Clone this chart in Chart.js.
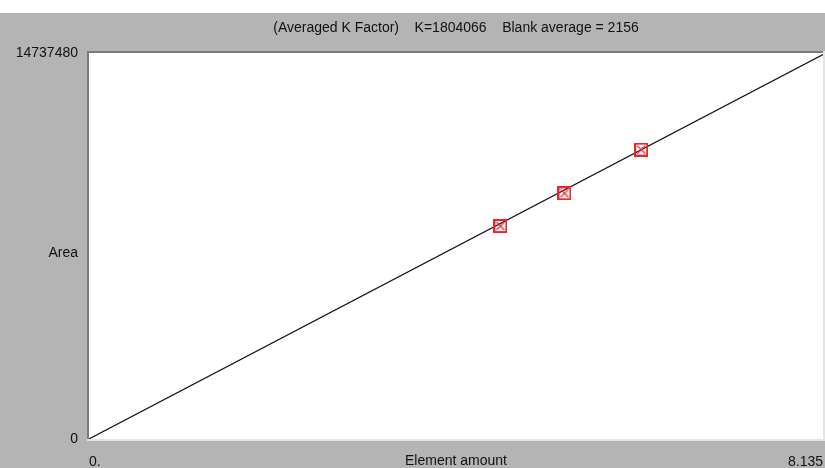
<!DOCTYPE html>
<html>
<head>
<meta charset="utf-8">
<script src="https://cdn.jsdelivr.net/npm/chart.js@4/dist/chart.umd.min.js"></script>
<style>
  html, body { margin: 0; padding: 0; background: #fff; }
  #wrap { width: 825px; height: 468px; }
</style>
</head>
<body>
<div id="wrap"><canvas id="calib" width="825" height="468"></canvas></div>
<script>
// Calibration standards (element amount vs. area) and fitted line.
const standardAmounts = [4.56, 5.27, 6.12];
const standardAreas = [8130000, 9380000, 11050000];
const fitAmounts = [0, 8.135];
const fitAreas = [2156, 14678233];
const xTicks = [0, 8.135];
const xTickLabels = ['0.', '8.135'];
const yTicks = [0, 14737480];
const yTickLabels = ['0', '14737480'];
const titleText = '(Averaged K Factor)    K=1804066    Blank average = 2156';
const xTitle = 'Element amount';
const yTitle = 'Area';

const FONT = '"Liberation Sans", Arial, sans-serif';
const FSIZE = 14;

// red square-with-cross marker
const marker = document.createElement('canvas');
marker.width = 14; marker.height = 14;
(() => {
  const c = marker.getContext('2d');
  c.strokeStyle = '#e8262b';
  c.lineWidth = 2;
  c.strokeRect(1, 1, 12, 12);
  c.lineWidth = 1.2;
  c.beginPath();
  c.moveTo(3, 3); c.lineTo(11, 11);
  c.moveTo(11, 3); c.lineTo(3, 11);
  c.stroke();
})();

// window-style frame: gray panel, sunken white plot area, plain-text titles
const frame = {
  id: 'frame',
  beforeDraw(chart) {
    const { ctx, chartArea: a, width, height } = chart;
    ctx.save();
    ctx.fillStyle = '#ffffff';
    ctx.fillRect(0, 0, width, height);
    ctx.fillStyle = '#b4b4b4';
    ctx.fillRect(0, 13, width, height - 13);
    ctx.fillStyle = '#ffffff';
    ctx.fillRect(a.left, a.top, a.right - a.left, a.bottom - a.top);
    ctx.fillStyle = '#7a7a7a';
    ctx.fillRect(a.left - 2, a.top - 2, a.right - a.left + 2, 2);
    ctx.fillRect(a.left - 2, a.top - 2, 2, a.bottom - a.top + 2);
    ctx.fillStyle = '#e4e4e4';
    ctx.fillRect(a.left - 2, a.bottom, a.right - a.left + 4, 2);
    ctx.fillRect(a.right, a.top - 2, 2, a.bottom - a.top + 4);
    ctx.restore();
  },
  afterDraw(chart) {
    const { ctx, chartArea: a } = chart;
    ctx.save();
    ctx.fillStyle = '#111';
    ctx.font = FSIZE + 'px ' + FONT;
    ctx.textBaseline = 'middle';
    ctx.textAlign = 'center';
    ctx.fillText(titleText, (a.left + a.right) / 2, 28);
    ctx.fillText(xTitle, (a.left + a.right) / 2, 461);
    ctx.textAlign = 'right';
    ctx.fillText(yTitle, a.left - 11, 253);
    ctx.restore();
  }
};

new Chart(document.getElementById('calib').getContext('2d'), {
  type: 'scatter',
  data: {
    datasets: [
      {
        label: 'fit',
        data: fitAmounts.map((x, i) => ({ x, y: fitAreas[i] })),
        showLine: true,
        borderColor: '#111',
        borderWidth: 1.2,
        pointRadius: 0,
        order: 2
      },
      {
        label: 'standards',
        data: standardAmounts.map((x, i) => ({ x, y: standardAreas[i] })),
        pointStyle: marker,
        pointRadius: 7,
        order: 1
      }
    ]
  },
  options: {
    responsive: false,
    animation: false,
    layout: { autoPadding: false, padding: { top: 53, right: 2, left: 0, bottom: 0 } },
    plugins: { legend: { display: false }, tooltip: { enabled: false } },
    scales: {
      x: {
        type: 'linear',
        min: xTicks[0],
        max: xTicks[xTicks.length - 1],
        afterBuildTicks: (s) => { s.ticks = xTicks.map((v) => ({ value: v })); },
        afterFit: (s) => { s.height = 29; s.paddingLeft = 0; s.paddingRight = 0; },
        grid: { display: false, drawTicks: false },
        border: { display: false },
        ticks: {
          align: 'inner',
          padding: 15,
          maxRotation: 0,
          color: '#111',
          font: { family: FONT, size: FSIZE },
          callback: (v) => xTickLabels[xTicks.indexOf(v)]
        }
      },
      y: {
        type: 'linear',
        min: yTicks[0],
        max: yTicks[yTicks.length - 1],
        afterBuildTicks: (s) => { s.ticks = yTicks.map((v) => ({ value: v })); },
        afterFit: (s) => { s.width = 89; s.paddingTop = 0; s.paddingBottom = 0; },
        grid: { display: false, drawTicks: false },
        border: { display: false },
        ticks: {
          padding: 11,
          color: '#111',
          font: { family: FONT, size: FSIZE },
          callback: (v) => yTickLabels[yTicks.indexOf(v)]
        }
      }
    }
  },
  plugins: [frame]
});
</script>
</body>
</html>
